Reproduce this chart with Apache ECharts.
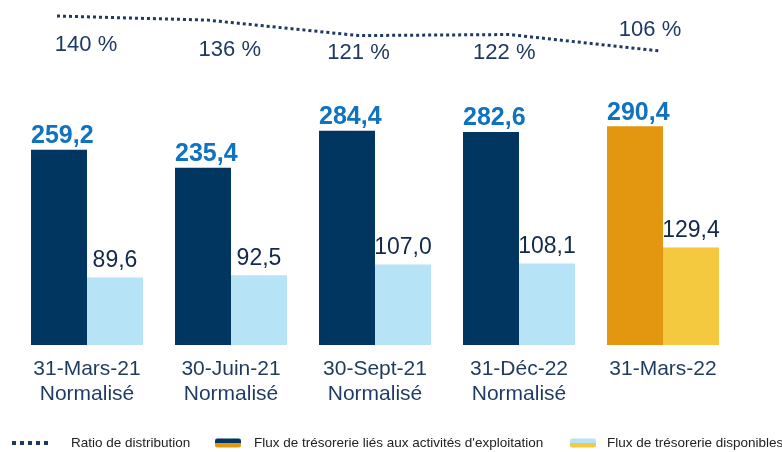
<!DOCTYPE html>
<html lang="fr" style="height: 100%">

<head>
  <meta charset="utf-8">
  <style>
    html,
    body {
      margin: 0;
      padding: 0;
      width: 100%;
      height: 100%;
      overflow: hidden;
      background: #fff;
    }
  </style>
</head>

<body>
  <div id="container" style="height: 100%;width: 100%;"></div>

  <script type="text/javascript" src="https://cdn.jsdelivr.net/npm/echarts@6/dist/echarts.min.js"></script>
  <script type="text/javascript">

    var dom = document.getElementById('container');
    var myChart = echarts.init(dom, null, {
      renderer: 'canvas',
      useDirtyRect: false
    });

    // catégories (axe x)
    const categories = [
      "31-Mars-21\nNormalisé",
      "30-Juin-21\nNormalisé",
      "30-Sept-21\nNormalisé",
      "31-Déc-22\nNormalisé",
      "31-Mars-22"
    ]

    // flux d'exploitation
    const fluxExploitation = [259.2, 235.4, 284.4, 282.6, 290.4]
    // flux disponibles
    const fluxDisponibles = [89.6, 92.5, 107.0, 108.1, 129.4]
    // ratio de distribution (%)
    const ratioDistribution = [140, 136, 121, 122, 106]

    const nameRatio = "Ratio de distribution";
    const nameExpl = "Flux de trésorerie liés aux activités d'exploitation";
    const nameDisp = "Flux de trésorerie disponibles";

    const FONT = "'Liberation Sans', Arial, sans-serif";
    const NAVY = "#003660";
    const ORANGE = "#e3960f";
    const LIGHT = "#b6e3f5";
    const YELLOW = "#f4c93f";
    const LINE = "#1f3864";

    // décalage des étiquettes du ratio (px)
    const ratioLabelOffsets = [[29, 29], [22, 30], [0, 17], [-5, 18], [-10, -21]];

    const fmt = (v) => v.toFixed(1).replace(".", ",");

    const twoTone = (c1, c2) => new echarts.graphic.LinearGradient(0, 0, 0, 1, [
      { offset: 0, color: c1 },
      { offset: 0.5, color: c1 },
      { offset: 0.5, color: c2 },
      { offset: 1, color: c2 },
    ]);

    const last = categories.length - 1;

    var option = {
      animation: false,
      textStyle: { fontFamily: FONT },
      legend: [
        {
          left: 10,
          top: 436,
          padding: 0,
          itemWidth: 40,
          itemHeight: 8,
          textStyle: { fontSize: 13.5, color: "#222", fontFamily: FONT, padding: [0, 0, 0, 14] },
          data: [{
            name: nameRatio,
            itemStyle: { opacity: 0 },
            lineStyle: { color: LINE, width: 4, type: [4, 4] },
          }],
        },
        {
          left: 215,
          top: 436,
          padding: 0,
          itemWidth: 26,
          itemHeight: 9,
          textStyle: { fontSize: 13.5, color: "#222", fontFamily: FONT, padding: [0, 0, 0, 8] },
          data: [{ name: nameExpl, itemStyle: { color: twoTone(NAVY, ORANGE) } }],
        },
        {
          left: 570,
          top: 436,
          padding: 0,
          itemWidth: 26,
          itemHeight: 9,
          textStyle: { fontSize: 13.5, color: "#222", fontFamily: FONT, padding: [0, 0, 0, 6] },
          data: [{ name: nameDisp, itemStyle: { color: twoTone(LIGHT, YELLOW) } }],
        },
      ],
      grid: [
        { left: 15, right: 47, top: 119, bottom: 107 },
        { left: 57, right: 122, top: 5.7, bottom: 394.8 },
      ],
      xAxis: [
        {
          type: "category",
          gridIndex: 0,
          data: categories,
          axisLine: { show: false },
          axisTick: { show: false },
          axisLabel: {
            margin: 12,
            fontSize: 21,
            lineHeight: 25,
            color: "#1f3a5f",
            fontFamily: FONT,
          },
        },
        {
          type: "category",
          gridIndex: 1,
          boundaryGap: false,
          data: categories,
          show: false,
        },
      ],
      yAxis: [
        { type: "value", gridIndex: 0, min: 0, max: 300, show: false },
        { type: "value", gridIndex: 1, min: 100, max: 150, show: false },
      ],
      series: [
        {
          name: nameExpl,
          type: "bar",
          xAxisIndex: 0,
          yAxisIndex: 0,
          barWidth: 56,
          barGap: "0%",
          itemStyle: { color: NAVY },
          data: fluxExploitation.map((v, i) => ({
            value: v,
            itemStyle: { color: i === last ? ORANGE : NAVY },
          })),
          label: {
            show: true,
            position: [0, -1],
            align: "left",
            verticalAlign: "bottom",
            fontSize: 25,
            fontWeight: "bold",
            color: "#1172c0",
            fontFamily: FONT,
            formatter: (p) => fmt(p.value),
          },
        },
        {
          name: nameDisp,
          type: "bar",
          xAxisIndex: 0,
          yAxisIndex: 0,
          barWidth: 56,
          itemStyle: { color: LIGHT },
          data: fluxDisponibles.map((v, i) => ({
            value: v,
            itemStyle: { color: i === last ? YELLOW : LIGHT },
          })),
          label: {
            show: true,
            position: "top",
            distance: 5,
            fontSize: 23,
            color: "#13294b",
            fontFamily: FONT,
            formatter: (p) => fmt(p.value),
          },
        },
        {
          name: nameRatio,
          type: "line",
          xAxisIndex: 1,
          yAxisIndex: 1,
          symbol: "circle",
          symbolSize: 1,
          showSymbol: true,
          lineStyle: { color: LINE, width: 3, type: [3, 3] },
          itemStyle: { color: "rgba(0,0,0,0)" },
          data: ratioDistribution.map((v, i) => ({
            value: v,
            label: { offset: ratioLabelOffsets[i] },
          })),
          label: {
            show: true,
            position: "inside",
            align: "center",
            verticalAlign: "middle",
            fontSize: 22,
            color: LINE,
            fontFamily: FONT,
            formatter: (p) => p.value + " %",
          },
        },
      ],
    };

    myChart.setOption(option);

    window.addEventListener('resize', myChart.resize);

  </script>
</body>

</html>
